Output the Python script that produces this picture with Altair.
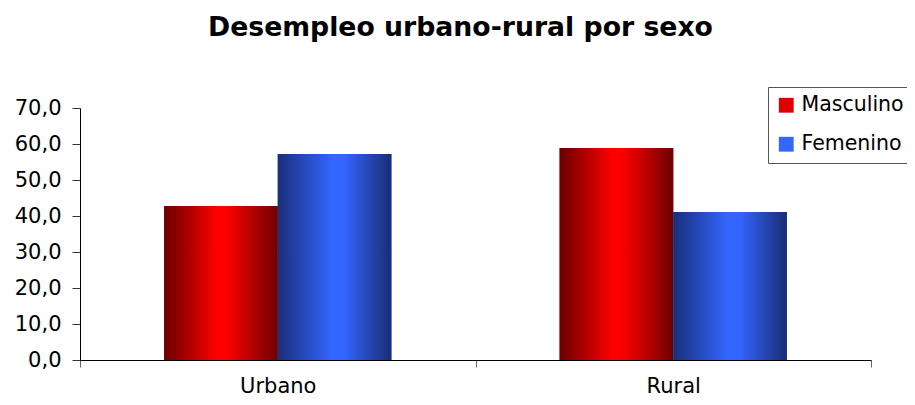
import altair as alt
import pandas as pd

# --- data ---
categorias = ["Urbano", "Rural"]
sexos = ["Masculino", "Femenino"]
masculino = [42.8, 58.9]
femenino = [57.2, 41.1]
y_ticks = [0, 10, 20, 30, 40, 50, 60, 70]

rows = []
for i, c in enumerate(categorias):
    rows.append({"Zona": c, "Sexo": "Masculino", "Valor": masculino[i]})
    rows.append({"Zona": c, "Sexo": "Femenino", "Valor": femenino[i]})
df = pd.DataFrame(rows)

red_grad = {
    "gradient": "linear", "x1": 0, "y1": 0, "x2": 1, "y2": 0,
    "stops": [
        {"offset": 0.0, "color": "#6a0000"},
        {"offset": 0.47, "color": "#ff0000"},
        {"offset": 0.55, "color": "#fc0000"},
        {"offset": 1.0, "color": "#6e0000"},
    ],
}
blue_grad = {
    "gradient": "linear", "x1": 0, "y1": 0, "x2": 1, "y2": 0,
    "stops": [
        {"offset": 0.0, "color": "#1a2f7a"},
        {"offset": 0.48, "color": "#3366ff"},
        {"offset": 0.58, "color": "#3366ff"},
        {"offset": 1.0, "color": "#1a2d74"},
    ],
}

FONT = "DejaVu Sans"

x_enc = alt.X(
    "Zona:N", sort=categorias,
    scale=alt.Scale(paddingInner=0, paddingOuter=0),
    axis=alt.Axis(title=None, labelAngle=0, tickBand="extent", tickSize=7,
                  labelPadding=8, labelFont=FONT, labelFontSize=21,
                  labelColor="black", domainColor="black", tickColor="#666666"),
)
xo_enc = alt.XOffset("Sexo:N", sort=sexos,
                     scale=alt.Scale(domain=sexos, paddingInner=0, paddingOuter=0.74))
y_enc = alt.Y(
    "Valor:Q", scale=alt.Scale(domain=[0, 70], nice=False),
    axis=alt.Axis(title=None, values=y_ticks, grid=False, tickSize=8, labelPadding=11,
                  labelFont=FONT, labelFontSize=21, labelColor="black",
                  domainColor="black", tickColor="#333333",
                  labelExpr="replace(format(datum.value, '.1f'), '.', ',')"),
)

base = alt.Chart(df).encode(x=x_enc, xOffset=xo_enc, y=y_enc)

legend_layer = base.mark_bar().encode(
    color=alt.Color(
        "Sexo:N", sort=sexos,
        scale=alt.Scale(domain=sexos, range=["#e00000", "#3366ff"]),
        legend=alt.Legend(title=None, orient="none", legendX=688, legendY=-21,
                          padding=8, rowPadding=18, symbolType="square",
                          symbolSize=220, symbolStrokeWidth=0, labelFont=FONT,
                          labelFontSize=20.5, labelOffset=5, labelColor="black",
                          strokeColor="#555555", fillColor="white"),
    )
)
red_layer = base.transform_filter("datum.Sexo == 'Masculino'").mark_bar(color=red_grad)
blue_layer = base.transform_filter("datum.Sexo == 'Femenino'").mark_bar(color=blue_grad)

chart = alt.layer(legend_layer, red_layer, blue_layer).properties(
    width=791, height=252,
    title=alt.TitleParams("Desempleo urbano-rural por sexo", font=FONT, fontSize=26.7,
                          fontWeight="bold", color="black", anchor="middle",
                          dx=-15, offset=45),
    autosize=alt.AutoSizeParams(type="none"),
    padding={"left": 72, "top": 100, "right": 36, "bottom": 37},
).configure(background="white").configure_view(stroke=None)

chart.save("out.html", embed_options={"renderer": "svg", "actions": False})
